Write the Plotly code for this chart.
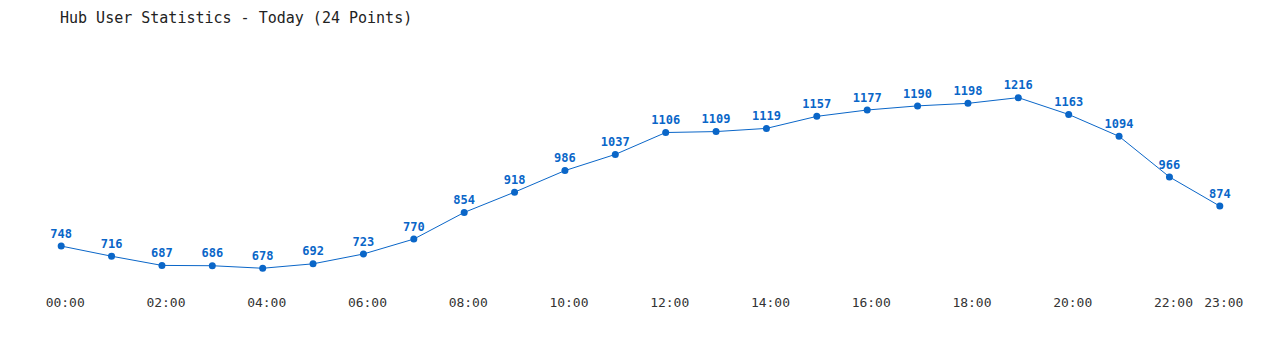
import plotly.graph_objects as go

hours = list(range(24))
users = [748, 716, 687, 686, 678, 692, 723, 770, 854, 918, 986, 1037,
         1106, 1109, 1119, 1157, 1177, 1190, 1198, 1216, 1163, 1094, 966, 874]
tick_hours = [0, 2, 4, 6, 8, 10, 12, 14, 16, 18, 20, 22, 23]
tick_text = [f"{h:02d}:00" for h in tick_hours]

color = "#0a66c8"
fig = go.Figure(go.Scatter(
    x=hours, y=users, mode="lines+markers+text",
    line=dict(color=color, width=1),
    marker=dict(color=color, size=7),
    text=[str(v) for v in users], textposition="top center",
    textfont=dict(family="DejaVu Sans Mono", size=12, color=color, weight="bold"),
    cliponaxis=False, hoverinfo="skip",
))
fig.update_layout(
    width=1280, height=350,
    margin=dict(l=36, r=35, t=71, b=57),
    paper_bgcolor="white", plot_bgcolor="white",
    showlegend=False,
    title=dict(text="Hub User Statistics - Today (24 Points)", x=60/1280, xanchor="left",
               y=1-18/350, yanchor="middle",
               font=dict(family="DejaVu Sans Mono", size=15, color="#222")),
    xaxis=dict(range=[-0.5, 23.5], tickmode="array", tickvals=tick_hours, ticktext=tick_text,
               showgrid=False, zeroline=False, showline=False, ticks="",
               ticklabelshift=4,
               tickfont=dict(family="DejaVu Sans Mono", size=13, color="#333")),
    yaxis=dict(range=[600, 1300], visible=False, showgrid=False, zeroline=False),
)
fig.write_html("out.html")
